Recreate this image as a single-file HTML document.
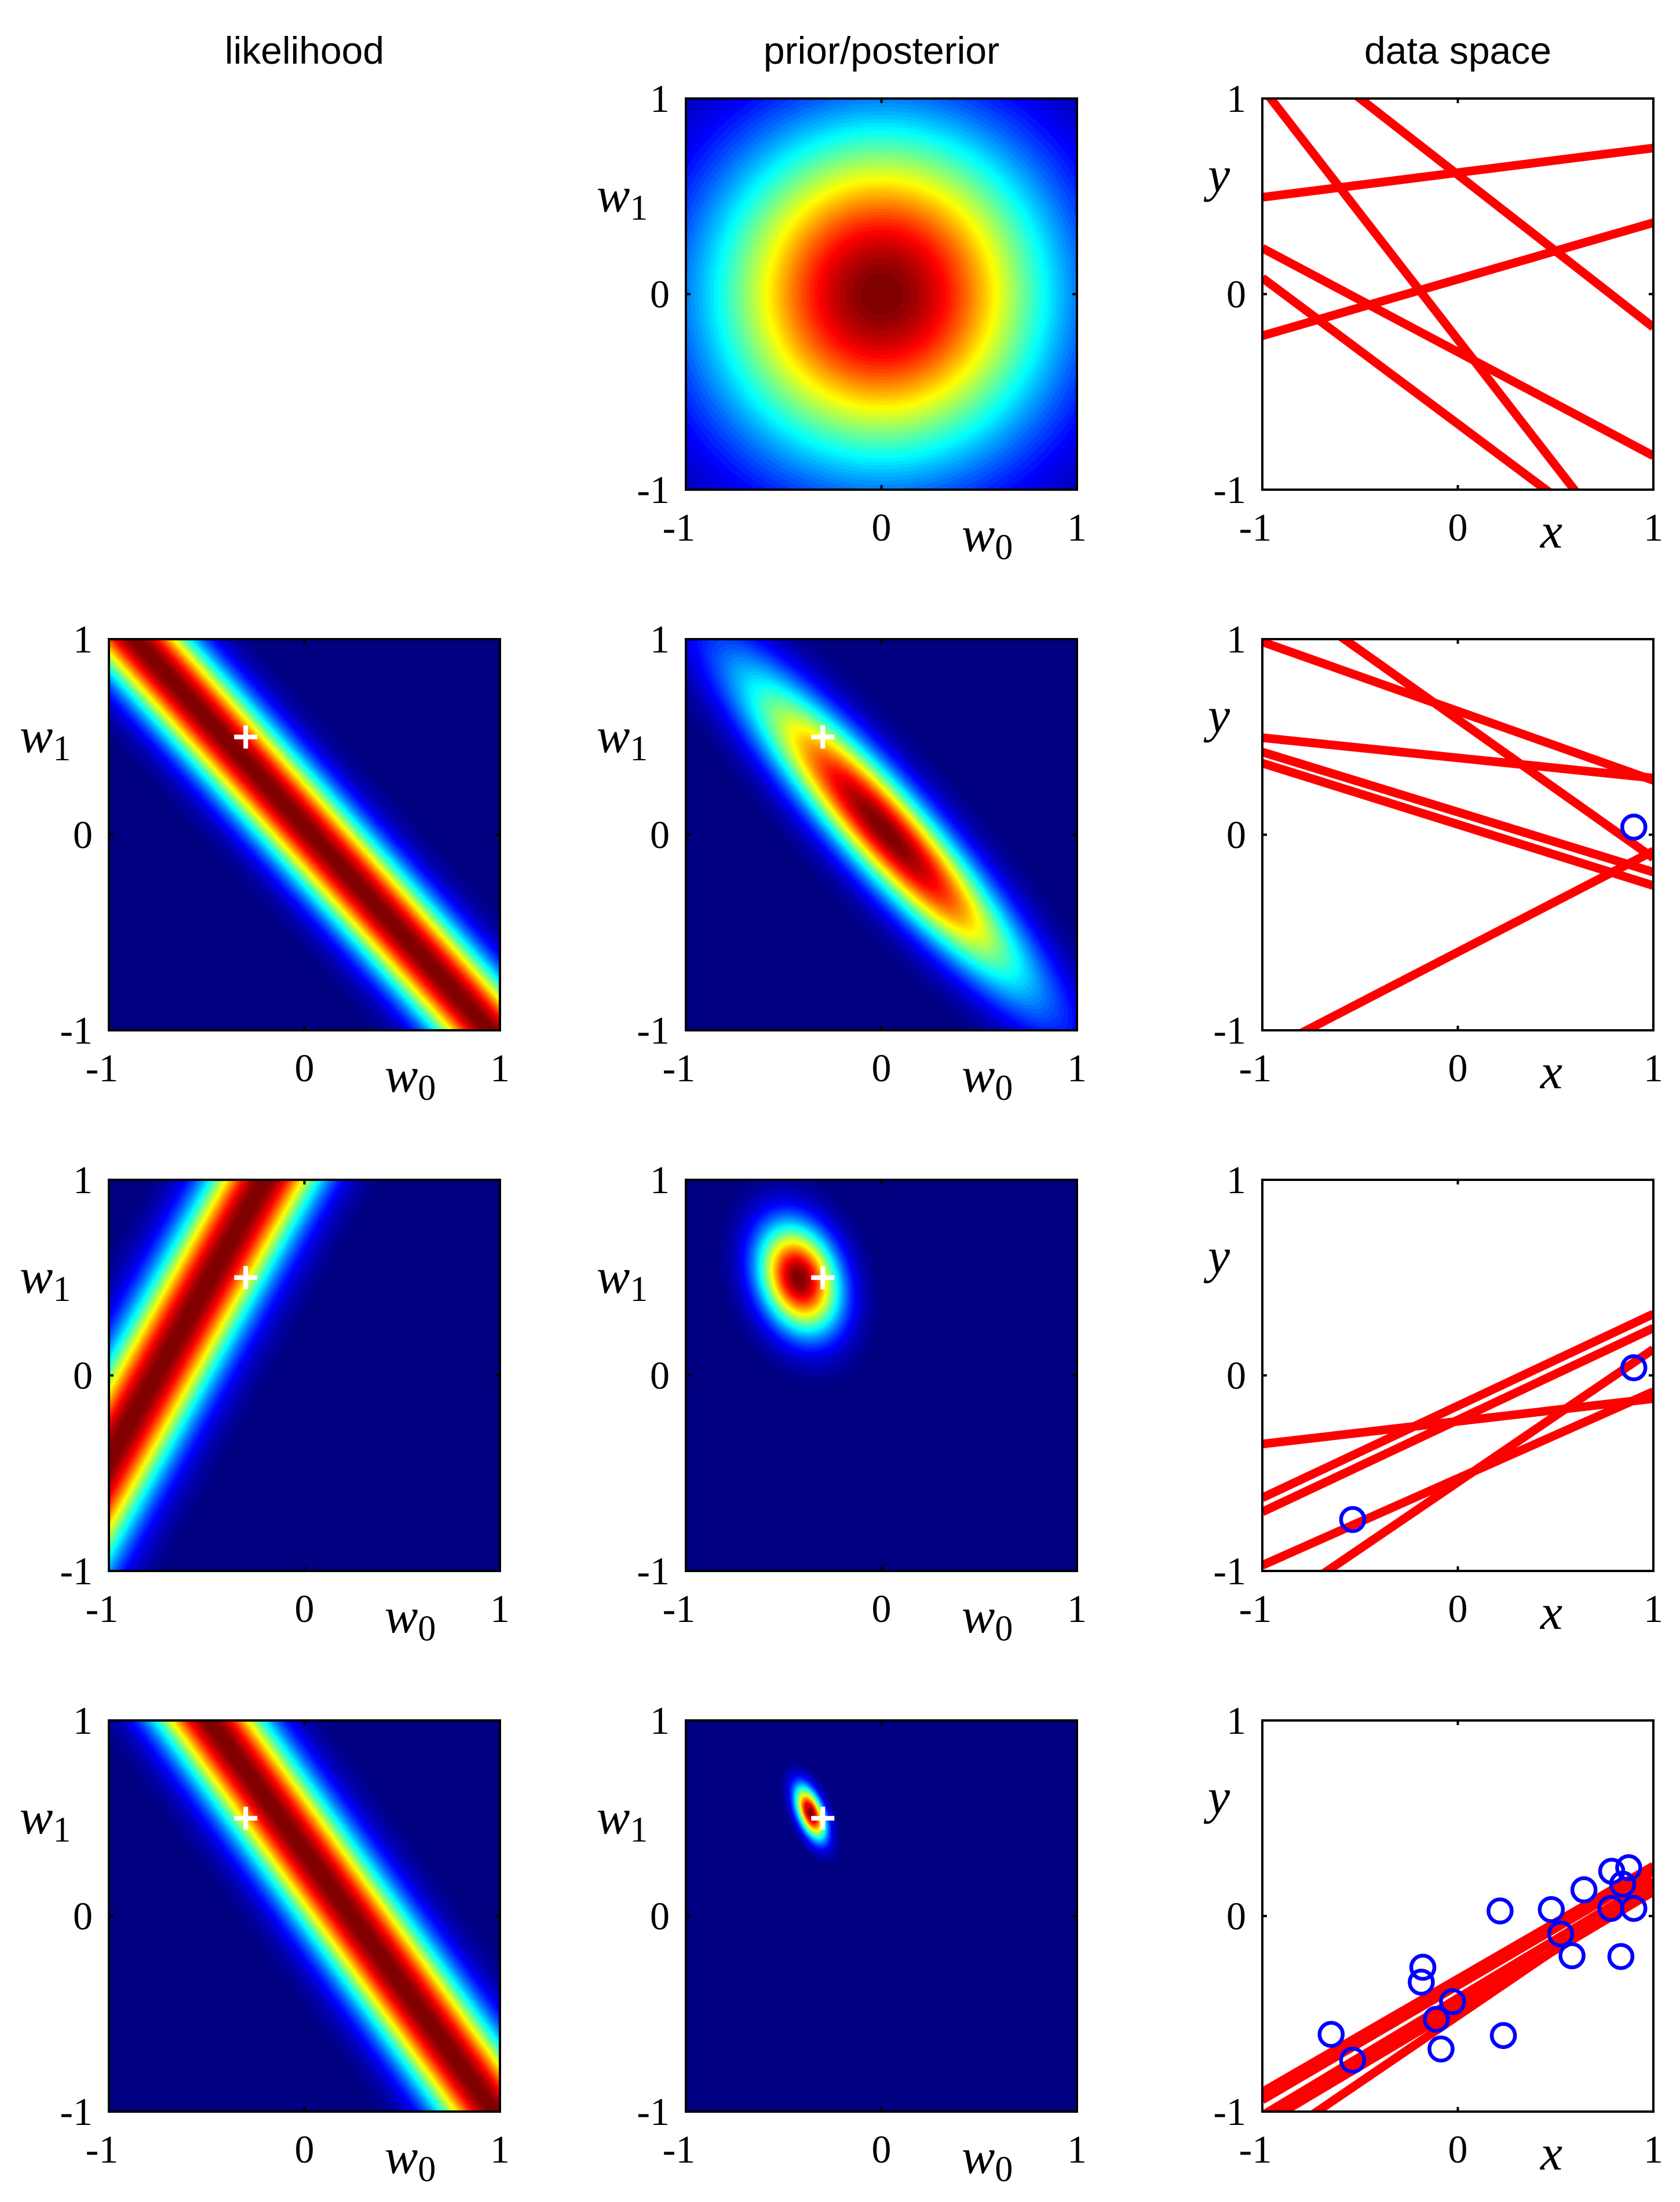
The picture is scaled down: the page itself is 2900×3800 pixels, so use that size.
<!DOCTYPE html>
<html><head><meta charset="utf-8"><style>
body{margin:0;background:#fff;width:2900px;height:3800px;position:relative;overflow:hidden}
canvas{position:absolute}
svg{position:absolute;left:0;top:0}
</style></head><body>
<div id="canvases"></div>
<svg id="s" width="2900" height="3800"></svg>
<script>
// ---- data ----
var trueW = [-0.3, 0.5];
var alpha = 2.0, beta = 25.0;
var priorSd = 0.6;
var dataX = [0.900,-0.538,-0.648,-0.179,-0.187,-0.110,-0.027,-0.086,0.216,0.233,0.478,0.526,0.584,0.645,0.787,0.783,0.834,0.843,0.874];
var dataT = [0.039,-0.737,-0.605,-0.262,-0.338,-0.528,-0.438,-0.680,0.026,-0.611,0.033,-0.092,-0.203,0.134,0.229,0.039,-0.207,0.163,0.247];
var pointsPerRow = [0, 1, 2, 19];
var likX = [0.906, -0.556, 0.728];
var likT = [0.04, -0.76, 0.242];
var lineW0Row1 = [0.621, 0.076, -0.296, -0.664, -0.233, 0.61];
var lineW1Row1 = [0.126, 0.289, -0.531, -0.747, -1.288, -0.78];
var lineW0Row2 = [0.632, 0.589, 0.393, 0.116, 0.053, -0.60];
var lineW1Row2 = [-0.354, -0.708, -0.103, -0.307, -0.313, 0.517];
var lineW0Row3 = [-0.235, -0.156, -0.228, -0.527, -0.546];
var lineW1Row3 = [0.116, 0.47, 0.47, 0.444, 0.68];
var lineW0Row4 = [-0.322, -0.355, -0.345, -0.47, -0.51, -0.42];
var lineW1Row4 = [0.578, 0.585, 0.585, 0.595, 0.68, 0.60];
var tickVals = [-1, 0, 1];
var tickLabels = ['-1', '0', '1'];
var titles = ['likelihood', 'prior/posterior', 'data space'];

// ---- layout ----
var colL = [188, 1184, 2179], rowT = [170, 1103, 2036, 2969], S = 675;
var NS = 'http://www.w3.org/2000/svg';
var svg = document.getElementById('s');
function el(tag, attrs, parent) { var e = document.createElementNS(NS, tag); for (var k in attrs) e.setAttribute(k, attrs[k]); (parent || svg).appendChild(e); return e; }
function sx(L, v) { return L + (v + 1) / 2 * S; }
function sy(T, v) { return T + (1 - v) / 2 * S; }
function jet(v) {
  v = Math.floor(Math.max(0, Math.min(1, v)) * 63.999) / 63;
  function c(x) { return Math.max(0, Math.min(1, x)); }
  return [c(1.5 - Math.abs(4 * v - 3)) * 255, c(1.5 - Math.abs(4 * v - 2)) * 255, c(1.5 - Math.abs(4 * v - 1)) * 255];
}
function heat(L, T, f, name) {
  var cv = document.createElement('canvas'); cv.width = S; cv.height = S;
  cv.style.left = L + 'px'; cv.style.top = T + 'px';
  
  
  document.getElementById('canvases').appendChild(cv);
  var ctx = cv.getContext('2d'), im = ctx.createImageData(S, S), vals = new Float64Array(S * S), mx = -1e9;
  for (var j = 0; j < S; j++) for (var i = 0; i < S; i++) {
    var w0 = (i + 0.5) / S * 2 - 1, w1 = 1 - (j + 0.5) / S * 2;
    var v = f(w0, w1); vals[j * S + i] = v; if (v > mx) mx = v;
  }
  for (var k = 0; k < S * S; k++) { var c = jet(vals[k] / mx); im.data[4 * k] = c[0]; im.data[4 * k + 1] = c[1]; im.data[4 * k + 2] = c[2]; im.data[4 * k + 3] = 255; }
  ctx.putImageData(im, 0, 0);
}
function posterior(n) {
  var a = alpha, b = 0, d = alpha, u = 0, v = 0;
  for (var i = 0; i < n; i++) { var x = dataX[i], t = dataT[i]; a += beta; b += beta * x; d += beta * x * x; u += beta * t; v += beta * x * t; }
  var det = a * d - b * b, m0 = (d * u - b * v) / det, m1 = (a * v - b * u) / det;
  return function (w0, w1) { var e0 = w0 - m0, e1 = w1 - m1; return Math.exp(-0.5 * (a * e0 * e0 + 2 * b * e0 * e1 + d * e1 * e1)); };
}
function frame(L, T, name) {
  var g = el('g', {  });
  el('rect', { x: L, y: T, width: S, height: S, fill: 'none', stroke: '#000', 'stroke-width': 4 }, g);
  var c = L + S / 2, m = T + S / 2;
  el('path', { d: 'M' + c + ' ' + T + 'v8M' + c + ' ' + (T + S) + 'v-8M' + L + ' ' + m + 'h8M' + (L + S) + ' ' + m + 'h-8', stroke: '#000', 'stroke-width': 4 }, g);
  return g;
}
function ticks(L, T) {
  var g = el('g', {   'font-family': 'Liberation Serif, serif', 'font-size': 68 });
  for (var i = 0; i < tickVals.length; i++) {
    var t = el('text', { x: L - 28, y: sy(T, tickVals[i]) + 23, 'text-anchor': 'end' }, g); t.textContent = tickLabels[i];
    var t2 = el('text', { x: sx(L, tickVals[i]) - (tickVals[i] < 0 ? 12 : 0), y: T + S + 88, 'text-anchor': 'middle' }, g); t2.textContent = tickLabels[i];
  }
}
function wlabels(L, T) {
  var g = el('g', {   'font-family': 'Liberation Serif, serif', 'font-size': 86, 'font-style': 'italic' });
  var a = el('text', { x: L + 476, y: T + S + 106 }, g); a.innerHTML = 'w<tspan font-style="normal" font-size="62" dy="14">0</tspan>';
  var b = el('text', { x: L - 154, y: T + 195 }, g); b.innerHTML = 'w<tspan font-style="normal" font-size="62" dy="14">1</tspan>';
}
function cross(L, T) {
  var x = sx(L, trueW[0]), y = sy(T, trueW[1]);
  el('path', { d: 'M' + (x - 20) + ' ' + y + 'h40M' + x + ' ' + (y - 20) + 'v40', stroke: '#fff', 'stroke-width': 8,  });
}
// titles
for (var c = 0; c < 3; c++) {
  var t = el('text', { x: colL[c] + S / 2, y: 110, 'text-anchor': 'middle', 'font-family': 'Liberation Sans, sans-serif', 'font-size': 66,  });
  t.textContent = titles[c];
}
var clip = el('defs', {});
var rowsW0 = [lineW0Row1, lineW0Row2, lineW0Row3, lineW0Row4], rowsW1 = [lineW1Row1, lineW1Row2, lineW1Row3, lineW1Row4];
for (var r = 0; r < 4; r++) {
  var T = rowT[r];
  if (r > 0) {
    (function (xx, tt) { heat(colL[0], T, function (w0, w1) { var e = tt - w0 - w1 * xx; return Math.exp(-0.5 * beta * e * e); }, 'likelihood-heatmap'); })(likX[r - 1], likT[r - 1]);
    frame(colL[0], T, 'likelihood-axes'); ticks(colL[0], T); wlabels(colL[0], T); cross(colL[0], T);
  }
  if (r === 0) heat(colL[1], T, function (w0, w1) { return Math.exp(-(w0 * w0 + w1 * w1) / (2 * priorSd * priorSd)); }, 'prior-heatmap');
  else heat(colL[1], T, posterior(pointsPerRow[r]), 'posterior-heatmap');
  frame(colL[1], T, 'posterior-axes'); ticks(colL[1], T); wlabels(colL[1], T);
  if (r > 0) cross(colL[1], T);
  var L = colL[2];
  var cp = el('clipPath', { id: 'cp' + r }, clip); el('rect', { x: L, y: T, width: S, height: S }, cp);
  var lg = el('g', { 'clip-path': 'url(#cp' + r + ')',  });
  for (var i = 0; i < rowsW0[r].length; i++) {
    var w0 = rowsW0[r][i], w1 = rowsW1[r][i];
    var ln = el('line', { x1: sx(L, -1), y1: sy(T, w0 - w1), x2: sx(L, 1), y2: sy(T, w0 + w1), stroke: '#f00', 'stroke-width': 15 }, lg);
    
    
  }
  var pg = el('g', {  });
  for (var k = 0; k < pointsPerRow[r]; k++) {
    var ci = el('circle', { cx: sx(L, dataX[k]), cy: sy(T, dataT[k]), r: 20, fill: 'none', stroke: '#00f', 'stroke-width': 6.5 }, pg);
    
    
  }
  frame(L, T, 'data-space-axes'); ticks(L, T);
  var yl = el('text', { x: L - 94, y: T + 160, 'font-family': 'Liberation Serif, serif', 'font-size': 86, 'font-style': 'italic',  }); yl.textContent = 'y';
  var xl = el('text', { x: L + 480, y: T + S + 100, 'font-family': 'Liberation Serif, serif', 'font-size': 86, 'font-style': 'italic',  }); xl.textContent = 'x';
}
</script>
</body></html>
